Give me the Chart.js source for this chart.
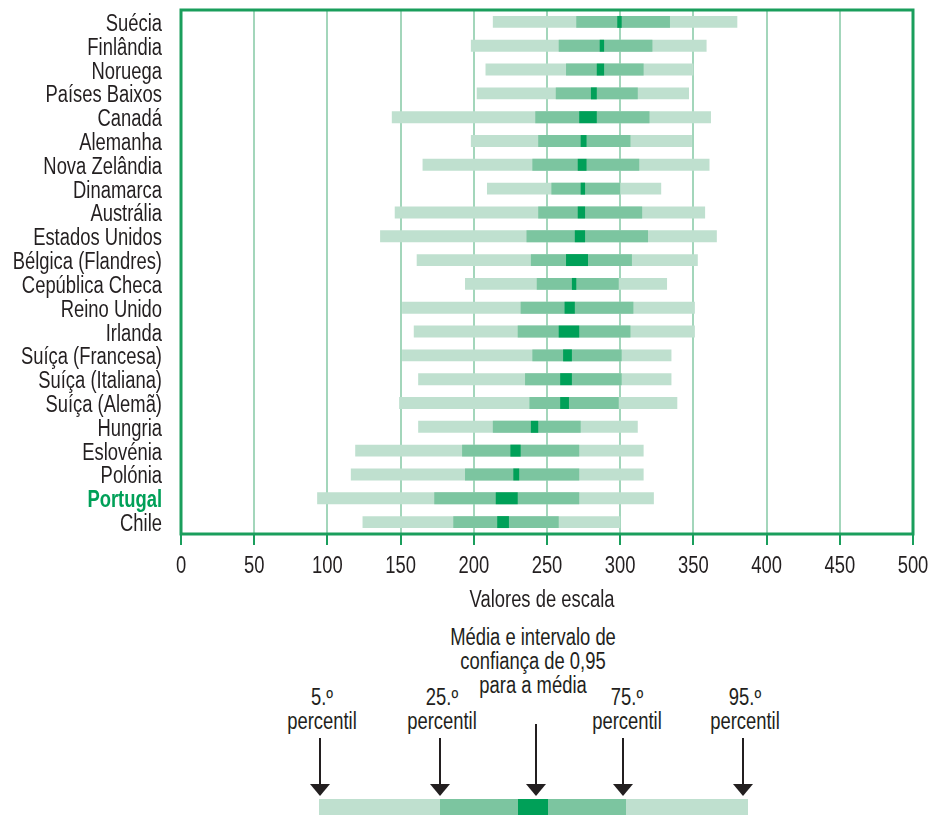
<!DOCTYPE html>
<html>
<head>
<meta charset="utf-8">
<script src="https://cdn.jsdelivr.net/npm/chart.js@4.4.1/dist/chart.umd.min.js"></script>
<style>
  body { margin: 0; background: #fff; width: 929px; height: 815px; position: relative; overflow: hidden;
         font-family: 'Liberation Sans', Arial, sans-serif; color: #231f20; }
  #wrap { position: absolute; left: 0; top: 0; width: 929px; height: 620px; }
  /* the original face is a condensed grotesque: squeeze a regular one */
  .txt { position: absolute; transform: translateX(-50%) scaleX(0.8); text-align: center;
         font-size: 23px; line-height: 24px; white-space: nowrap; }
  .shaft { position: absolute; width: 2px; background: #231f20; }
  .head { position: absolute; width: 0; height: 0; border-left: 10.5px solid transparent;
          border-right: 10.5px solid transparent; border-top: 12px solid #231f20; }
  .seg { position: absolute; top: 799px; height: 16px; }
</style>
</head>
<body>
<div id="wrap"><canvas id="chart" width="929" height="620"></canvas></div>

<!-- key under the chart -->
<div class="txt" style="left:533px; top:625px;">Média e intervalo de<br>confiança de 0,95<br>para a média</div>
<div class="txt" style="left:322px; top:685px;">5.º<br>percentil</div>
<div class="txt" style="left:442px; top:685px;">25.º<br>percentil</div>
<div class="txt" style="left:627px; top:685px;">75.º<br>percentil</div>
<div class="txt" style="left:745px; top:685px;">95.º<br>percentil</div>
<div id="key"></div>

<script>
const countries = ['Suécia', 'Finlândia', 'Noruega', 'Países Baixos', 'Canadá', 'Alemanha',
    'Nova Zelândia', 'Dinamarca', 'Austrália', 'Estados Unidos', 'Bélgica (Flandres)',
    'Cepública Checa', 'Reino Unido', 'Irlanda', 'Suíça (Francesa)', 'Suíça (Italiana)',
    'Suíça (Alemã)', 'Hungria', 'Eslovénia', 'Polónia', 'Portugal', 'Chile'];

const p5     = [213, 198, 208, 202, 144, 198, 165, 209, 146, 136, 161, 194, 151, 159, 151, 162, 149, 162, 119, 116,  93, 124];
const p25    = [270, 258, 263, 256, 242, 244, 240, 253, 244, 236, 239, 243, 232, 230, 240, 235, 238, 213, 192, 194, 173, 186];
const meanLo = [298, 286, 284, 280, 272, 273, 271, 273, 271, 269, 263, 267, 262, 258, 261, 259, 259, 239, 225, 227, 215, 216];
const meanHi = [301, 289, 289, 284, 284, 277, 277, 276, 276, 276, 278, 270, 269, 272, 267, 267, 265, 244, 232, 231, 230, 224];
const p75    = [334, 322, 316, 312, 320, 307, 313, 300, 315, 319, 308, 299, 309, 307, 301, 301, 299, 273, 272, 272, 272, 258];
const p95    = [380, 359, 350, 347, 362, 349, 361, 328, 358, 366, 353, 332, 351, 351, 335, 335, 339, 312, 316, 316, 323, 300];

const xTicks = [0, 50, 100, 150, 200, 250, 300, 350, 400, 450, 500];
const xTitle = 'Valores de escala';
const highlight = 'Portugal';

const LIGHT = '#bfe0cf';
const MID = '#7cc5a0';
const DARK = '#00a058';
const FRAME = '#1a9e5c';
const GRID = '#a3d6bb';
const INK = '#231f20';
const FONT = "'Liberation Sans', Arial, sans-serif";
const SQUEEZE = 0.8;

const pairs = (a, b) => a.map((v, i) => [v, b[i]]);

// first dataset is drawn on top
const datasets = [
    { data: pairs(meanLo, meanHi), backgroundColor: DARK },
    { data: pairs(p25, p75), backgroundColor: MID },
    { data: pairs(p5, p95), backgroundColor: LIGHT }
].map(d => Object.assign(d, {
    grouped: false, barPercentage: 0.5, categoryPercentage: 1, borderWidth: 0
}));

function squeezedText(ctx, text, x, y, align) {
    ctx.save();
    ctx.translate(x, y);
    ctx.scale(SQUEEZE, 1);
    ctx.textAlign = align;
    ctx.fillText(text, 0, 0);
    ctx.restore();
}

const framePlugin = {
    id: 'frame',
    afterDraw(chart) {
        const { ctx, chartArea: a } = chart;
        ctx.save();
        ctx.strokeStyle = FRAME;
        ctx.lineWidth = 3;
        ctx.strokeRect(a.left, a.top, a.right - a.left, a.bottom - a.top);
        ctx.restore();
    }
};

// tick labels and axis title, drawn at the scales' own tick positions
const labelPlugin = {
    id: 'narrowLabels',
    afterDraw(chart) {
        const { ctx, chartArea: a, scales: { x, y } } = chart;
        ctx.save();
        ctx.textBaseline = 'alphabetic';
        y.ticks.forEach((t, i) => {
            const hi = countries[i] === highlight;
            ctx.font = (hi ? 'bold ' : '') + '23px ' + FONT;
            ctx.fillStyle = hi ? DARK : INK;
            squeezedText(ctx, countries[i], a.left - 19, y.getPixelForTick(i) + 9, 'right');
        });
        ctx.font = '23px ' + FONT;
        ctx.fillStyle = INK;
        x.ticks.forEach(t => {
            squeezedText(ctx, String(t.value), x.getPixelForValue(t.value), a.bottom + 39, 'center');
        });
        squeezedText(ctx, xTitle, (a.left + a.right) / 2 - 5, a.bottom + 73, 'center');
        ctx.restore();
    }
};

new Chart(document.getElementById('chart'), {
    type: 'bar',
    data: { labels: countries, datasets: datasets },
    plugins: [framePlugin, labelPlugin],
    options: {
        indexAxis: 'y',
        responsive: false,
        animation: false,
        devicePixelRatio: 1,
        layout: { padding: { top: 10, right: 16, left: 0, bottom: 0 } },
        plugins: { legend: { display: false }, tooltip: { enabled: false } },
        scales: {
            x: {
                min: 0, max: 500,
                afterBuildTicks: s => { s.ticks = xTicks.map(v => ({ value: v })); },
                afterFit: s => { s.height = 86; s.paddingLeft = 0; s.paddingRight = 0; },
                grid: { color: GRID, lineWidth: 2, tickLength: 11, tickColor: FRAME, tickWidth: 2 },
                border: { display: false },
                ticks: { display: false }
            },
            y: {
                afterFit: s => { s.width = 181; s.paddingTop = 0; s.paddingBottom = 0; },
                grid: { display: false, drawTicks: false },
                border: { display: false },
                ticks: { display: false, autoSkip: false }
            }
        }
    }
});

// key: sample bar and arrows
const key = document.getElementById('key');
function box(cls, css) {
    const d = document.createElement('div');
    d.className = cls;
    d.style.cssText = css;
    key.appendChild(d);
}
box('seg', 'left:319px; width:429px; background:' + LIGHT);
box('seg', 'left:440px; width:186px; background:' + MID);
box('seg', 'left:518px; width:30px; background:' + DARK);
[[320, 738], [440, 738], [536, 724], [623, 738], [743, 738]].forEach(([x, top]) => {
    box('shaft', `left:${x - 1}px; top:${top}px; height:${786 - top}px;`);
    box('head', `left:${x - 10.5}px; top:784px;`);
});
</script>
</body>
</html>
